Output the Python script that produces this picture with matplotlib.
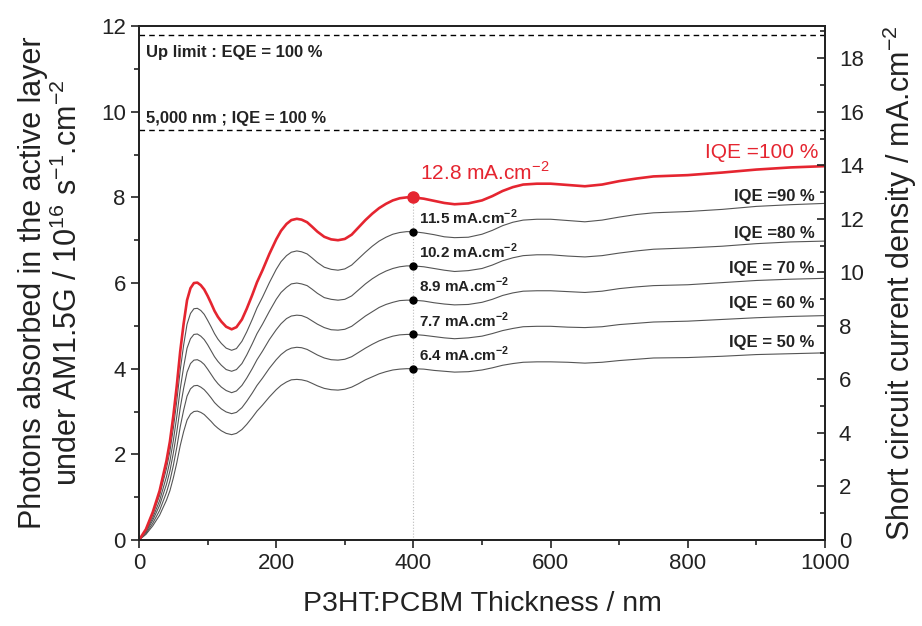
import matplotlib
matplotlib.use("Agg")
import matplotlib.pyplot as plt
from matplotlib.ticker import MultipleLocator

plt.rcParams["font.family"] = ["Liberation Sans", "DejaVu Sans"]
plt.rcParams["mathtext.fontset"] = "custom"
plt.rcParams["mathtext.rm"] = "Liberation Sans"
plt.rcParams["mathtext.bf"] = "Liberation Sans:bold"

# thickness grid (nm)
thickness = [0, 10, 20, 30, 40, 45, 50, 55, 60, 65, 70, 75, 80, 85, 90, 95, 100,
             105, 110, 115, 120, 127, 135, 142, 150, 157, 165, 172, 180,
             190, 200, 207, 215, 222, 230, 237, 245, 252, 260,
             270, 280, 290, 300, 310, 320, 330, 340, 350, 360, 370, 380, 390, 400,
             415, 430, 445, 460, 480, 500, 515, 530, 545, 560, 580, 600, 625, 650,
             675, 700, 725, 750, 800, 850, 900, 950, 1000]

# photons absorbed (1e16 s-1 cm-2)
iqe_100 = [0, 0.25, 0.65, 1.15, 1.85, 2.3, 2.9, 3.6, 4.4, 5.05, 5.6, 5.88, 6.0, 6.01, 5.95,
           5.85, 5.7, 5.53, 5.35, 5.21, 5.1, 4.98, 4.92, 4.97, 5.15, 5.4, 5.72, 6.02, 6.3,
           6.68, 7.02, 7.22, 7.38, 7.47, 7.5, 7.48, 7.42, 7.32, 7.2,
           7.08, 7.02, 7.0, 7.03, 7.13, 7.3, 7.47, 7.62, 7.75, 7.85, 7.93, 7.98, 8.0, 8.0,
           7.97, 7.92, 7.87, 7.84, 7.86, 7.93, 8.03, 8.15, 8.24, 8.3, 8.32, 8.32, 8.29, 8.26,
           8.3, 8.38, 8.44, 8.49, 8.52, 8.58, 8.65, 8.7, 8.73]
iqe_90 = [0, 0.23, 0.59, 1.04, 1.67, 2.07, 2.61, 3.24, 3.96, 4.55, 5.04, 5.29, 5.4, 5.41, 5.36,
          5.27, 5.13, 4.98, 4.82, 4.69, 4.59, 4.48, 4.43, 4.47, 4.64, 4.86, 5.15, 5.42, 5.67,
          6.01, 6.32, 6.5, 6.64, 6.72, 6.75, 6.73, 6.68, 6.59, 6.48,
          6.37, 6.32, 6.3, 6.33, 6.42, 6.57, 6.72, 6.86, 6.98, 7.07, 7.14, 7.18, 7.2, 7.2,
          7.17, 7.13, 7.08, 7.06, 7.07, 7.14, 7.23, 7.34, 7.42, 7.47, 7.49, 7.49, 7.46, 7.43,
          7.47, 7.54, 7.6, 7.64, 7.67, 7.72, 7.79, 7.83, 7.86]
iqe_80 = [0, 0.2, 0.52, 0.92, 1.48, 1.84, 2.32, 2.88, 3.52, 4.04, 4.48, 4.7, 4.8, 4.81, 4.76,
          4.68, 4.56, 4.42, 4.28, 4.17, 4.08, 3.98, 3.94, 3.98, 4.12, 4.32, 4.58, 4.82, 5.04,
          5.34, 5.62, 5.78, 5.9, 5.98, 6.0, 5.98, 5.94, 5.86, 5.76,
          5.66, 5.62, 5.6, 5.62, 5.7, 5.84, 5.98, 6.1, 6.2, 6.28, 6.34, 6.38, 6.4, 6.4,
          6.38, 6.34, 6.3, 6.27, 6.29, 6.34, 6.42, 6.52, 6.59, 6.64, 6.66, 6.66, 6.63, 6.61,
          6.64, 6.7, 6.75, 6.79, 6.82, 6.86, 6.92, 6.96, 6.98]
iqe_70 = [0, 0.18, 0.46, 0.81, 1.3, 1.61, 2.03, 2.52, 3.08, 3.54, 3.92, 4.12, 4.2, 4.21, 4.17,
          4.1, 3.99, 3.87, 3.75, 3.65, 3.57, 3.49, 3.44, 3.48, 3.61, 3.78, 4.0, 4.21, 4.41,
          4.68, 4.91, 5.05, 5.17, 5.23, 5.25, 5.24, 5.19, 5.12, 5.04,
          4.96, 4.91, 4.9, 4.92, 4.99, 5.11, 5.23, 5.33, 5.43, 5.5, 5.55, 5.59, 5.6, 5.6,
          5.58, 5.54, 5.51, 5.49, 5.5, 5.55, 5.62, 5.71, 5.77, 5.81, 5.82, 5.82, 5.8, 5.78,
          5.81, 5.87, 5.91, 5.94, 5.96, 6.01, 6.06, 6.09, 6.11]
iqe_60 = [0, 0.15, 0.39, 0.69, 1.11, 1.38, 1.74, 2.16, 2.64, 3.03, 3.36, 3.53, 3.6, 3.61, 3.57,
          3.51, 3.42, 3.32, 3.21, 3.13, 3.06, 2.99, 2.95, 2.98, 3.09, 3.24, 3.43, 3.61, 3.78,
          4.01, 4.21, 4.33, 4.43, 4.48, 4.5, 4.49, 4.45, 4.39, 4.32,
          4.25, 4.21, 4.2, 4.22, 4.28, 4.38, 4.48, 4.57, 4.65, 4.71, 4.76, 4.79, 4.8, 4.8,
          4.78, 4.75, 4.72, 4.7, 4.72, 4.76, 4.82, 4.89, 4.94, 4.98, 4.99, 4.99, 4.97, 4.96,
          4.98, 5.03, 5.06, 5.09, 5.11, 5.15, 5.19, 5.22, 5.24]
iqe_50 = [0, 0.13, 0.33, 0.58, 0.93, 1.15, 1.45, 1.8, 2.2, 2.53, 2.8, 2.94, 3.0, 3.01, 2.98,
          2.93, 2.85, 2.77, 2.68, 2.61, 2.55, 2.49, 2.46, 2.49, 2.58, 2.7, 2.86, 3.01, 3.15,
          3.34, 3.51, 3.61, 3.69, 3.74, 3.75, 3.74, 3.71, 3.66, 3.6,
          3.54, 3.51, 3.5, 3.52, 3.57, 3.65, 3.74, 3.81, 3.88, 3.93, 3.97, 3.99, 4.0, 4.0,
          3.99, 3.96, 3.94, 3.92, 3.93, 3.97, 4.02, 4.08, 4.12, 4.15, 4.16, 4.16, 4.15, 4.13,
          4.15, 4.19, 4.22, 4.25, 4.26, 4.29, 4.33, 4.35, 4.37]

gray_curves = [iqe_90, iqe_80, iqe_70, iqe_60, iqe_50]
curve_labels = ["IQE =90 %", "IQE =80 %", "IQE = 70 %", "IQE = 60 %", "IQE = 50 %"]
curve_label_y = [8.03, 7.16, 6.34, 5.52, 4.61]

# values at 400 nm
dot_x = 400
dot_y = [7.2, 6.4, 5.6, 4.8, 4.0]
jsc_text = ["11.5", "10.2", "8.9", "7.7", "6.4"]

up_limit = 11.79
limit_5000 = 9.57
y_to_jsc = 1.6  # mA.cm-2 per 1e16 photons

red = "#e52530"
ink = "#222222"

fig = plt.figure(figsize=(9.22, 6.26), dpi=100)
ax = fig.add_axes([0.1508, 0.1374, 0.7440, 0.8209])

ax.axhline(up_limit, color="black", lw=1, ls=(0, (4, 3)))
ax.axhline(limit_5000, color="black", lw=1, ls=(0, (4, 3)))
ax.text(10, 11.38, "Up limit : EQE = 100 %", fontsize=12, fontweight="bold",
        va="center", color=ink)
ax.text(10, 9.85, "5,000 nm ; IQE = 100 %", fontsize=12, fontweight="bold",
        va="center", color=ink)

ax.plot([dot_x, dot_x], [0, 8.0], color="#bbbbbb", lw=0.8, ls=":")

for ys in gray_curves:
    ax.plot(thickness, ys, color="#555555", lw=0.8)
ax.plot(thickness, iqe_100, color=red, lw=1.9)

ax.plot([dot_x], [8.0], "o", color=red, ms=8)
ax.plot([dot_x] * len(dot_y), dot_y, "o", color="black", ms=5)

ax.text(410, 8.57, "12.8 mA.cm$^{-2}$", fontsize=15, color=red, va="center")
for yv, t in zip(dot_y, jsc_text):
    ax.text(408, yv + 0.34, t + r" mA.cm$^{\mathbf{-2}}$", fontsize=11, fontweight="bold",
            va="center", color=ink)

ax.text(991, 9.06, "IQE =100 %", fontsize=15, color=red, va="center", ha="right")
for lab, yv in zip(curve_labels, curve_label_y):
    ax.text(985, yv, lab, fontsize=12, fontweight="bold", va="center", ha="right",
            color=ink)

ax.set_xlim(0, 1000)
ax.set_ylim(0, 12)
ax.xaxis.set_major_locator(MultipleLocator(200))
ax.xaxis.set_minor_locator(MultipleLocator(100))
ax.yaxis.set_major_locator(MultipleLocator(2))
ax.yaxis.set_minor_locator(MultipleLocator(1))
ax.tick_params(which="both", direction="out", top=False, right=False,
               labelsize=16, colors=ink, width=1.2)
ax.tick_params(which="major", length=6)
ax.tick_params(which="minor", length=3.5)
for s in ax.spines.values():
    s.set_linewidth(1.3)
    s.set_color(ink)

ax.set_xlabel("P3HT:PCBM Thickness / nm", fontsize=20.5, color=ink, labelpad=12)
ax.set_ylabel("Photons absorbed in the active layer\n"
              "under AM1.5G / 10$^{16}$ s$^{-1}$.cm$^{-2}$",
              fontsize=22, color=ink, labelpad=12, linespacing=1.2)

ax2 = ax.twinx()
ax2.set_ylim(0, 12 * y_to_jsc)
ax2.yaxis.set_major_locator(MultipleLocator(2))
ax2.yaxis.set_minor_locator(MultipleLocator(1))
ax2.tick_params(which="both", direction="in", labelsize=16, colors=ink, width=1.2)
ax2.tick_params(which="major", length=6, pad=10)
ax2.tick_params(which="minor", length=3.5)
for s in ax2.spines.values():
    s.set_linewidth(1.3)
    s.set_color(ink)
ax2.set_ylabel("Short circuit current density / mA.cm$^{-2}$", fontsize=22,
               color=ink, labelpad=12)

fig.savefig("out.png", dpi=100)
